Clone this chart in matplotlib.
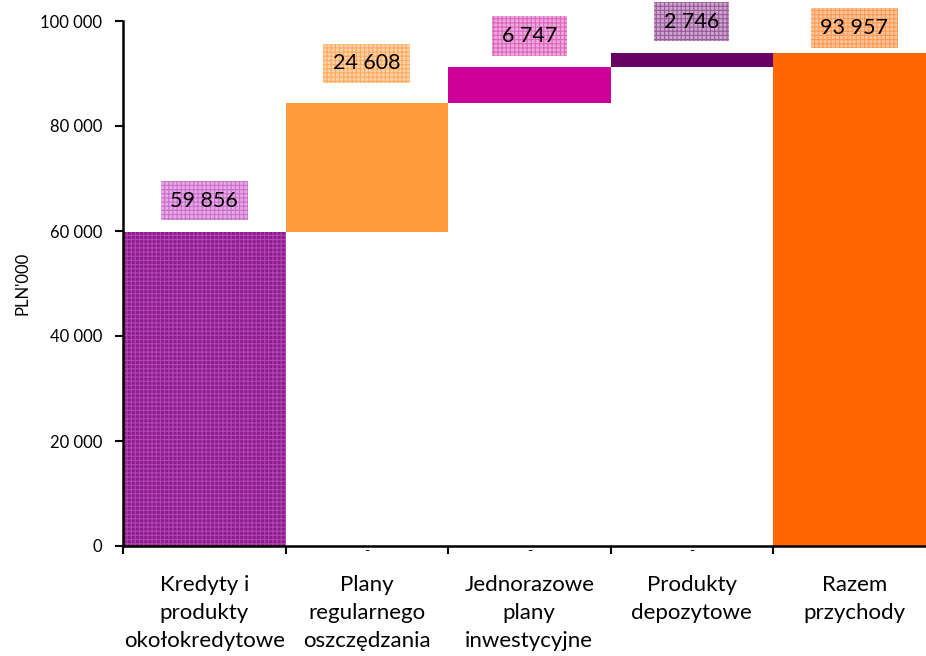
import matplotlib
matplotlib.use("Agg")
import matplotlib.pyplot as plt
from matplotlib.ticker import FuncFormatter, FixedLocator

plt.rcParams['font.family'] = ['Lato', 'DejaVu Sans']
plt.rcParams['hatch.linewidth'] = 0.8

categories = ["Kredyty i\nprodukty\nokołokredytowe", "Plany\nregularnego\noszczędzania",
              "Jednorazowe\nplany\ninwestycyjne", "Produkty\ndepozytowe", "Razem\nprzychody"]
values = [59856, 24608, 6747, 2746, 93957]
bases = [0, 59856, 84464, 91211, 0]
value_labels = ["59 856", "24 608", "6 747", "2 746", "93 957"]
zero_labels = ["", "-", "-", "-", ""]

bar_colors = ["#8E1A8E", "#FF9A3A", "#CC0099", "#660066", "#FF6600"]
bar_hatch_colors = ["#B048B0", None, None, None, None]
label_fc = ["#E8A8E8", "#FFD3A8", "#F2A8DC", "#CDA6CD", "#FFC59A"]
label_hc = ["#C870C8", "#FFAA60", "#D868BE", "#9A5A9A", "#FF9A55"]
label_offsets = [5950, 7450, 5900, 5900, 4700]

fig = plt.figure(figsize=(9.26, 6.56), dpi=100)
ax = fig.add_axes([123/926, 110/656, 812.5/926, 525/656])

x = list(range(len(values)))
for i in x:
    hc = bar_hatch_colors[i]
    if hc:
        ax.bar(i, values[i], bottom=bases[i], width=1.0, color=bar_colors[i],
               edgecolor=hc, linewidth=0, hatch='++++', zorder=2)
    else:
        ax.bar(i, values[i], bottom=bases[i], width=1.0, color=bar_colors[i],
               linewidth=0, zorder=2)
    top = bases[i] + values[i]
    ax.text(i, top + label_offsets[i], value_labels[i], ha='center', va='center',
            fontsize=15.5, color='black', zorder=5,
            bbox=dict(boxstyle='square,pad=0.45', fc=label_fc[i], ec=label_hc[i],
                      lw=0, hatch='++++'))
    if zero_labels[i]:
        ax.annotate(zero_labels[i], (i, 0), xytext=(0, -3.5), textcoords='offset points',
                    ha='center', va='center', fontsize=10, color='black',
                    annotation_clip=False)

ax.set_xlim(-0.5, 4.5)
ax.set_ylim(0, 100000)
ax.set_yticks([0, 20000, 40000, 60000, 80000, 100000])
ax.yaxis.set_major_formatter(FuncFormatter(lambda v, p: f"{int(v):,}".replace(",", " ")))
ax.set_xticks(x)
ax.set_xticklabels(categories, fontsize=16, linespacing=1.5)
ax.xaxis.set_minor_locator(FixedLocator([-0.5, 0.5, 1.5, 2.5, 3.5, 4.5]))
ax.tick_params(axis='x', which='major', length=0, pad=21)
ax.tick_params(axis='x', which='minor', length=6, width=1.5, direction='out')
ax.tick_params(axis='y', length=6, width=1.5, direction='out', labelsize=12, pad=9)
ax.set_ylabel("PLN'000", fontsize=12, labelpad=7)
for s in ['top', 'right']:
    ax.spines[s].set_visible(False)
for s in ['left', 'bottom']:
    ax.spines[s].set_linewidth(1.8)
    ax.spines[s].set_zorder(3)

fig.savefig("out.png", dpi=100)
